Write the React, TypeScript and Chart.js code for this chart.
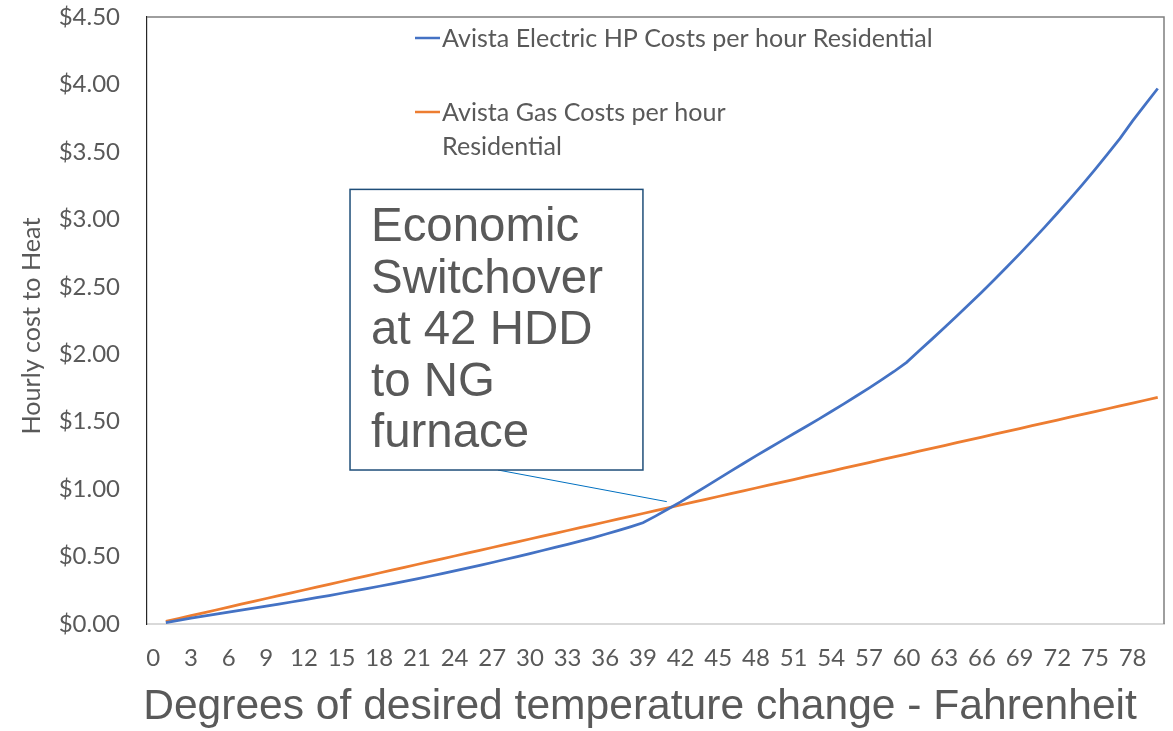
import React, { useEffect, useRef } from "react";
import { Chart, registerables } from "chart.js";

Chart.register(...registerables);

// ---------- DATA ----------
const categories = [
  "0", "1", "2", "3", "4", "5", "6", "7", "8", "9",
  "10", "11", "12", "13", "14", "15", "16", "17", "18", "19",
  "20", "21", "22", "23", "24", "25", "26", "27", "28", "29",
  "30", "31", "32", "33", "34", "35", "36", "37", "38", "39",
  "40", "41", "42", "43", "44", "45", "46", "47", "48", "49",
  "50", "51", "52", "53", "54", "55", "56", "57", "58", "59",
  "60", "61", "62", "63", "64", "65", "66", "67", "68", "69",
  "70", "71", "72", "73", "74", "75", "76", "77", "78", "79",
  "80",
];

const electricHP: (number | null)[] = [
  null, 0.010, 0.027, 0.043, 0.058, 0.073, 0.088, 0.103, 0.118, 0.133,
  0.148, 0.163, 0.179, 0.195, 0.211, 0.228, 0.245, 0.262, 0.280, 0.298,
  0.316, 0.335, 0.354, 0.374, 0.394, 0.414, 0.435, 0.456, 0.478, 0.500,
  0.522, 0.545, 0.568, 0.590, 0.614, 0.639, 0.665, 0.692, 0.720, 0.750,
  0.800, 0.852, 0.905, 0.962, 1.019, 1.076, 1.133, 1.190, 1.246, 1.301,
  1.356, 1.410, 1.464, 1.519, 1.575, 1.632, 1.690, 1.749, 1.810, 1.872,
  1.940, 2.025, 2.110, 2.196, 2.283, 2.372, 2.462, 2.554, 2.648, 2.744,
  2.842, 2.942, 3.045, 3.150, 3.258, 3.369, 3.484, 3.600, 3.730, 3.850,
  3.970,
];

const gas: (number | null)[] = [
  null, 0.020, 0.041, 0.062, 0.083, 0.104, 0.125, 0.147, 0.168, 0.189,
  0.210, 0.231, 0.252, 0.273, 0.294, 0.315, 0.336, 0.357, 0.378, 0.399,
  0.420, 0.441, 0.462, 0.483, 0.504, 0.525, 0.546, 0.567, 0.588, 0.609,
  0.630, 0.651, 0.672, 0.693, 0.714, 0.735, 0.756, 0.777, 0.798, 0.819,
  0.840, 0.861, 0.882, 0.903, 0.924, 0.945, 0.966, 0.987, 1.008, 1.029,
  1.050, 1.071, 1.092, 1.113, 1.134, 1.155, 1.176, 1.197, 1.218, 1.239,
  1.260, 1.281, 1.302, 1.323, 1.344, 1.365, 1.386, 1.407, 1.428, 1.449,
  1.470, 1.491, 1.512, 1.533, 1.554, 1.575, 1.596, 1.617, 1.638, 1.659,
  1.680,
];

const seriesNames = [
  "Avista Electric HP Costs per hour Residential",
  "Avista Gas Costs per hour Residential",
];
const legendLines = [
  ["Avista Electric HP Costs per hour Residential"],
  ["Avista Gas Costs per hour", "Residential"],
];
const annotationLines = ["Economic", "Switchover", "at 42 HDD", "to NG", "furnace"];
const xTitle = "Degrees of desired temperature change - Fahrenheit";
const yTitle = "Hourly cost to Heat";

// ---------- STYLE ----------
const BLUE = "#4472C4";
const ORANGE = "#ED7D31";
const TEXT = "#595959";
const TICK_FONT = "Lato";
const ARIAL = "'Liberation Sans', Arial, sans-serif";

function fitSize(ctx: CanvasRenderingContext2D, text: string, family: string, target: number) {
  ctx.font = `100px ${family}`;
  const w = ctx.measureText(text).width;
  return (100 * target) / w;
}

const overlay = {
  id: "overlay",
  afterDraw(chart: any) {
    const { ctx, chartArea: ca, scales } = chart;
    const xs = scales.x;
    const ys = scales.y;
    ctx.save();

    // plot-area border (top & right)
    ctx.strokeStyle = "#7F7F7F";
    ctx.lineWidth = 1.5;
    ctx.beginPath();
    ctx.moveTo(ca.left, ca.top);
    ctx.lineTo(ca.right, ca.top);
    ctx.lineTo(ca.right, ca.bottom);
    ctx.stroke();

    // legend
    const lgSize = fitSize(ctx, legendLines[0][0], TICK_FONT, 491);
    ctx.font = `${lgSize}px ${TICK_FONT}`;
    ctx.fillStyle = TEXT;
    ctx.textBaseline = "middle";
    ctx.textAlign = "left";
    const legendEntries = [
      { color: BLUE, ys: [38] },
      { color: ORANGE, ys: [112, 146] },
    ];
    legendEntries.forEach((e, i) => {
      ctx.strokeStyle = e.color;
      ctx.lineWidth = 2.5;
      ctx.beginPath();
      ctx.moveTo(415, e.ys[0]);
      ctx.lineTo(440, e.ys[0]);
      ctx.stroke();
      legendLines[i].forEach((t, j) => {
        ctx.fillText(t, 442, e.ys[j] + 1);
      });
    });

    // annotation box (anchored to data coordinates)
    const bx0 = xs.getPixelForValue(15.67);
    const bx1 = xs.getPixelForValue(39.0);
    const by0 = ys.getPixelForValue(3.222);
    const by1 = ys.getPixelForValue(1.1416);
    const cx = xs.getPixelForValue(40.9);
    const cy = ys.getPixelForValue(0.907);
    ctx.strokeStyle = "#0070C0";
    ctx.lineWidth = 1;
    ctx.beginPath();
    ctx.moveTo(bx0 + (bx1 - bx0) * 0.505, by1);
    ctx.lineTo(cx, cy);
    ctx.stroke();

    ctx.fillStyle = "#FFFFFF";
    ctx.fillRect(bx0, by0, bx1 - bx0, by1 - by0);
    ctx.strokeStyle = "#1F4E79";
    ctx.lineWidth = 1.5;
    ctx.strokeRect(bx0, by0, bx1 - bx0, by1 - by0);

    const anSize = fitSize(ctx, "Switchover", ARIAL, 232);
    ctx.font = `${anSize}px ${ARIAL}`;
    ctx.fillStyle = TEXT;
    ctx.textBaseline = "alphabetic";
    annotationLines.forEach((t, i) => {
      ctx.fillText(t, bx0 + 21, by0 + 52 + i * 51.5);
    });

    // x axis title
    const xtSize = fitSize(ctx, xTitle, ARIAL, 994);
    ctx.font = `${xtSize}px ${ARIAL}`;
    ctx.textAlign = "center";
    ctx.fillText(xTitle, 640, 719);

    // y axis title
    const ytSize = fitSize(ctx, yTitle, TICK_FONT, 217);
    ctx.font = `${ytSize}px ${TICK_FONT}`;
    ctx.translate(32, 326);
    ctx.rotate(-Math.PI / 2);
    ctx.textBaseline = "middle";
    ctx.fillText(yTitle, 0, 0);

    ctx.restore();
  },
};

export default function App() {
  const canvasRef = useRef<HTMLCanvasElement | null>(null);

  useEffect(() => {
    if (!canvasRef.current) return;
    const chart = new Chart(canvasRef.current, {
      type: "line",
      data: {
        labels: categories,
        datasets: [
          {
            label: seriesNames[0],
            data: electricHP,
            borderColor: BLUE,
            backgroundColor: BLUE,
            borderWidth: 2.75,
            pointRadius: 0,
            tension: 0,
          },
          {
            label: seriesNames[1],
            data: gas,
            borderColor: ORANGE,
            backgroundColor: ORANGE,
            borderWidth: 2.75,
            pointRadius: 0,
            tension: 0,
          },
        ],
      },
      options: {
        responsive: false,
        animation: false,
        devicePixelRatio: 1,
        layout: { padding: { left: 0, right: 9, top: 17, bottom: 0 } },
        plugins: {
          legend: { display: false },
          tooltip: { enabled: false },
          title: { display: false },
        },
        scales: {
          x: {
            type: "category",
            offset: true,
            grid: { display: false, drawTicks: false },
            border: { display: true, color: "#D9D9D9", width: 2 },
            ticks: {
              autoSkip: false,
              maxRotation: 0,
              minRotation: 0,
              padding: 20,
              color: TEXT,
              font: { family: TICK_FONT, size: 24 },
              callback: function (this: any, value: any, index: number) {
                return index % 3 === 0 ? categories[index] : null;
              },
            },
            afterFit: (scale: any) => {
              scale.height = 107;
              scale.paddingLeft = 0;
              scale.paddingRight = 0;
            },
          },
          y: {
            min: 0,
            max: 4.5,
            grid: { display: false, drawTicks: false },
            border: { display: true, color: "#262626", width: 1.2 },
            ticks: {
              stepSize: 0.5,
              padding: 27,
              color: TEXT,
              font: { family: TICK_FONT, size: 24 },
              callback: (v: any) => "$" + Number(v).toFixed(2),
            },
            afterFit: (scale: any) => {
              scale.width = 147;
              scale.paddingTop = 0;
              scale.paddingBottom = 0;
            },
          },
        },
      },
      plugins: [overlay],
    });
    return () => chart.destroy();
  }, []);

  return (
    <div style={{ position: "fixed", left: 0, top: 0, width: 1173, height: 731, background: "#fff" }}>
      <canvas ref={canvasRef} width={1173} height={731} style={{ display: "block" }} />
    </div>
  );
}
